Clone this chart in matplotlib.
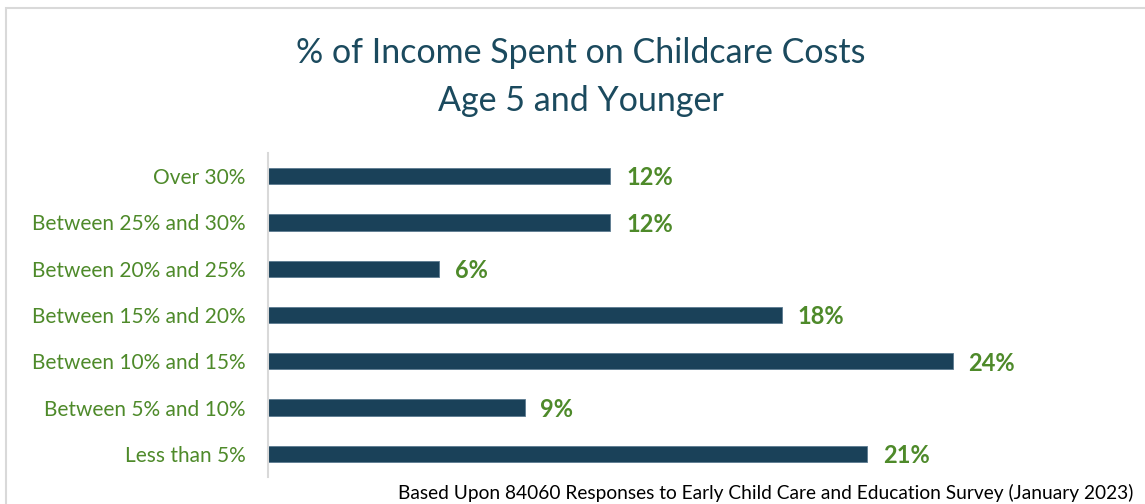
import matplotlib.pyplot as plt
from matplotlib.patches import Rectangle

# Survey results, top to bottom
categories = ['Over 30%', 'Between 25% and 30%', 'Between 20% and 25%',
              'Between 15% and 20%', 'Between 10% and 15%', 'Between 5% and 10%',
              'Less than 5%']
shares = [12, 12, 6, 18, 24, 9, 21]
value_labels = ['12%', '12%', '6%', '18%', '24%', '9%', '21%']

title_color = '#1B4A5E'
bar_color = '#1A4159'
green = '#4E8A2A'

plt.rcParams['font.family'] = ['Lato', 'DejaVu Sans']

fig = plt.figure(figsize=(11.45, 5.04), dpi=100)
W, H = 1145, 504

# light frame round the chart area
fig.patches.append(Rectangle((6 / W, -0.1), 1.2, (504 - 8) / H + 0.1,
                             transform=fig.transFigure, fill=False,
                             edgecolor='#D9D9D9', linewidth=1.5))

ax = fig.add_axes([268 / W, (H - 477) / H, 856 / W, 324 / H])
y = list(range(len(categories)))[::-1]
ax.barh(y, shares, height=0.35, color=bar_color, edgecolor='#5B7A90', linewidth=0.6)
ax.set_xlim(0, 30)
ax.set_ylim(-0.5, 6.5)

for yi, v, lab in zip(y, shares, value_labels):
    ax.text(v + 0.55, yi - 0.04, lab, va='center', ha='left', color=green,
            fontsize=17, fontweight='bold')

ax.set_yticks(y)
ax.set_yticklabels(categories, color=green, fontsize=15)
ax.tick_params(axis='y', length=0, pad=16)
ax.set_xticks([])
for s in ['top', 'right', 'bottom']:
    ax.spines[s].set_visible(False)
ax.spines['left'].set_color('#D9D9D9')
ax.spines['left'].set_linewidth(1.5)

fig.text(581 / W, 1 - 53 / H, '% of Income Spent on Childcare Costs',
         ha='center', va='center', fontsize=24.5, color=title_color)
fig.text(581 / W, 1 - 101 / H, 'Age 5 and Younger',
         ha='center', va='center', fontsize=24.5, color=title_color)

fig.text(1133 / W, 1 - 493 / H,
         'Based Upon 84060 Responses to Early Child Care and Education Survey (January 2023)',
         ha='right', va='center', fontsize=13.8, color='black')

fig.savefig('out.png', dpi=100)
